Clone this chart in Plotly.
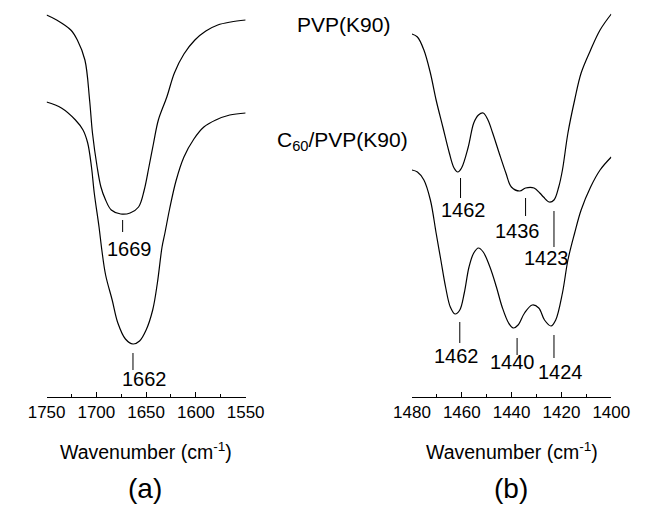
import plotly.graph_objects as go

# ---------------- data (wavenumber in cm-1, intensity in arbitrary units) ----------------
# Panel (a): C=O stretching region
a_pvp_wn = [1750, 1739.9, 1725.7, 1719.1, 1711.5, 1706.8, 1703.9, 1699.2, 1695.4, 1690.7,
            1685.0, 1675.5, 1666.1, 1657.6, 1651.9, 1647.2, 1642.5, 1637.7, 1629.2, 1621.6,
            1612.0, 1601.0, 1590.0, 1578.0, 1565.0, 1550]
a_pvp_int = [382, 377, 367, 357, 337, 297, 264, 230, 210, 197,
             187, 183, 184, 190, 207, 230, 254, 277, 300, 324,
             343, 357, 366, 372, 375, 377]

a_c60_wn = [1750, 1735.1, 1721.0, 1713.4, 1708.7, 1704.9, 1702.1, 1697.3, 1694.5, 1690.7,
            1684.1, 1678.4, 1670.8, 1663.2, 1656.6, 1650.0, 1643.4, 1638.7, 1634.0, 1631.1,
            1626.4, 1620.0, 1612.0, 1602.0, 1592.0, 1580.0, 1566.0, 1550]
a_c60_int = [295, 289, 277, 267, 254, 230, 204, 170, 147, 122,
             97, 74, 58, 53, 56, 67, 87, 114, 150, 164,
             188, 216, 240, 258, 270, 277, 282, 284]

# Panel (b): CH2 bending region
b_pvp_wn = [1480, 1477.8, 1475.2, 1472.6, 1470.3, 1467.6, 1465.0, 1463.1, 1461.6, 1460.1,
            1457.4, 1455.2, 1453.3, 1451.4, 1449.5, 1447.6, 1445.0, 1442.3, 1440.1, 1436.7,
            1434.4, 1431.0, 1428.7, 1427.2, 1424.9, 1423.0, 1421.1, 1419.6, 1417.4, 1414.7,
            1412.1, 1408.3, 1404.5, 1400]
b_pvp_int = [363, 360, 347, 324, 297, 270, 244, 229, 225, 229,
             250, 274, 282, 284, 277, 264, 244, 224, 210, 206,
             209, 209, 204, 200, 195, 197, 210, 227, 264, 297,
             324, 347, 367, 383]

b_c60_wn = [1480, 1477.8, 1475.2, 1472.6, 1470.3, 1468.4, 1466.5, 1464.6, 1462.7, 1460.8,
            1459.0, 1457.1, 1455.2, 1453.3, 1451.4, 1448.7, 1446.1, 1443.8, 1441.2, 1439.3,
            1437.4, 1434.8, 1431.7, 1429.1, 1426.8, 1424.2, 1422.3, 1419.6, 1417.4, 1414.7,
            1412.1, 1408.3, 1404.5, 1400]
b_c60_int = [227, 225, 217, 197, 164, 137, 110, 90, 83, 87,
             104, 130, 144, 149, 145, 130, 110, 90, 74, 69,
             72, 84, 92, 89, 77, 71, 77, 104, 137, 164,
             187, 210, 227, 240]

# Peak markers: label, marker position, marker line top/bottom, label position
a_peak_labels = ["1669", "1662"]
a_peak_wn = [1673.6, 1663.2]
a_peak_top = [177, 44]
a_peak_bot = [165, 27]
a_label_wn = [1666.9, 1651.8]
a_label_int = [148, 18]

b_peak_labels = ["1462", "1436", "1423", "1462", "1440", "1424"]
b_peak_wn = [1460.5, 1434.4, 1423.0, 1460.8, 1437.8, 1423.0]
b_peak_top = [219, 199, 186, 75, 59, 62]
b_peak_bot = [199, 181, 150, 54, 42, 39]
b_label_wn = [1459.3, 1437.8, 1426.1, 1462.0, 1439.7, 1420.4]
b_label_int = [187, 166, 139, 41, 35, 25]

series_names = ["PVP(K90)", "C<sub>60</sub>/PVP(K90)"]
axis_title = "Wavenumber (cm<sup>-1</sup>)"
panel_labels = ["(a)", "(b)"]

# ---------------- figure ----------------
W, H = 651, 507
FONT = "Arial, Liberation Sans, sans-serif"
line_style = dict(color="black", width=1.2, shape="spline", smoothing=1.0)

fig = go.Figure()
fig.add_trace(go.Scatter(x=a_pvp_wn, y=a_pvp_int, mode="lines", line=line_style,
                         xaxis="x", yaxis="y", showlegend=False))
fig.add_trace(go.Scatter(x=a_c60_wn, y=a_c60_int, mode="lines", line=line_style,
                         xaxis="x", yaxis="y", showlegend=False))
fig.add_trace(go.Scatter(x=b_pvp_wn, y=b_pvp_int, mode="lines", line=line_style,
                         xaxis="x2", yaxis="y2", showlegend=False))
fig.add_trace(go.Scatter(x=b_c60_wn, y=b_c60_int, mode="lines", line=line_style,
                         xaxis="x2", yaxis="y2", showlegend=False))

annotations = []
for wn, t, b, lab, lx, ly in zip(a_peak_wn, a_peak_top, a_peak_bot, a_peak_labels, a_label_wn, a_label_int):
    fig.add_trace(go.Scatter(x=[wn, wn], y=[t, b], mode="lines",
                             line=dict(color="black", width=1), xaxis="x", yaxis="y", showlegend=False))
    annotations.append(dict(x=lx, y=ly, xref="x", yref="y", text=lab, showarrow=False,
                            font=dict(family=FONT, size=20, color="black"),
                            xanchor="center", yanchor="middle"))
for wn, t, b, lab, lx, ly in zip(b_peak_wn, b_peak_top, b_peak_bot, b_peak_labels, b_label_wn, b_label_int):
    fig.add_trace(go.Scatter(x=[wn, wn], y=[t, b], mode="lines",
                             line=dict(color="black", width=1), xaxis="x2", yaxis="y2", showlegend=False))
    annotations.append(dict(x=lx, y=ly, xref="x2", yref="y2", text=lab, showarrow=False,
                            font=dict(family=FONT, size=20, color="black"),
                            xanchor="center", yanchor="middle"))

def px_x(p):
    return p / W

def px_y(p):
    return (H - p) / H

# series labels
annotations.append(dict(x=px_x(344.5), y=px_y(24), xref="paper", yref="paper", text=series_names[0],
                        showarrow=False, font=dict(family=FONT, size=21, color="black"),
                        xanchor="center", yanchor="middle"))
annotations.append(dict(x=px_x(344), y=px_y(141), xref="paper", yref="paper", text=series_names[1],
                        showarrow=False, font=dict(family=FONT, size=21, color="black"),
                        xanchor="center", yanchor="middle"))
# axis titles and panel labels
for cx, pcx, pl in zip([134.5, 523.5], [133.3, 523], panel_labels):
    annotations.append(dict(x=px_x(cx), y=px_y(451), xref="paper", yref="paper", text=axis_title,
                            showarrow=False, font=dict(family=FONT, size=19.5, color="black"),
                            xanchor="center", yanchor="middle"))
    annotations.append(dict(x=px_x(pcx), y=px_y(488), xref="paper", yref="paper", text=pl,
                            showarrow=False, font=dict(family=FONT, size=28, color="black"),
                            xanchor="center", yanchor="middle"))

xcommon = dict(showline=True, linecolor="black", linewidth=1, ticks="inside", ticklen=5,
               tickwidth=1, tickcolor="black", showgrid=False, zeroline=False, mirror=False,
               tickfont=dict(family=FONT, size=17, color="black"), ticklabelstandoff=0)
ycommon = dict(visible=False, range=[0, 392],
               domain=[(H - 397) / H, (H - 5) / H])

fig.update_layout(
    width=W, height=H, margin=dict(l=0, r=0, t=0, b=0),
    paper_bgcolor="white", plot_bgcolor="white",
    xaxis=dict(domain=[29.3 / W, 240.7 / W], range=[1750, 1550], anchor="y",
               tick0=1550, dtick=50,
               minor=dict(ticks="inside", ticklen=3, dtick=25, tick0=1550, tickcolor="black"),
               **xcommon),
    xaxis2=dict(domain=[417.3 / W, 629 / W], range=[1480, 1400], anchor="y2",
                tick0=1400, dtick=20,
                minor=dict(ticks="inside", ticklen=3, dtick=10, tick0=1400, tickcolor="black"),
                **xcommon),
    yaxis=dict(anchor="x", **ycommon),
    yaxis2=dict(anchor="x2", **ycommon),
    annotations=annotations,
    showlegend=False,
)

fig.write_html("out.html")
